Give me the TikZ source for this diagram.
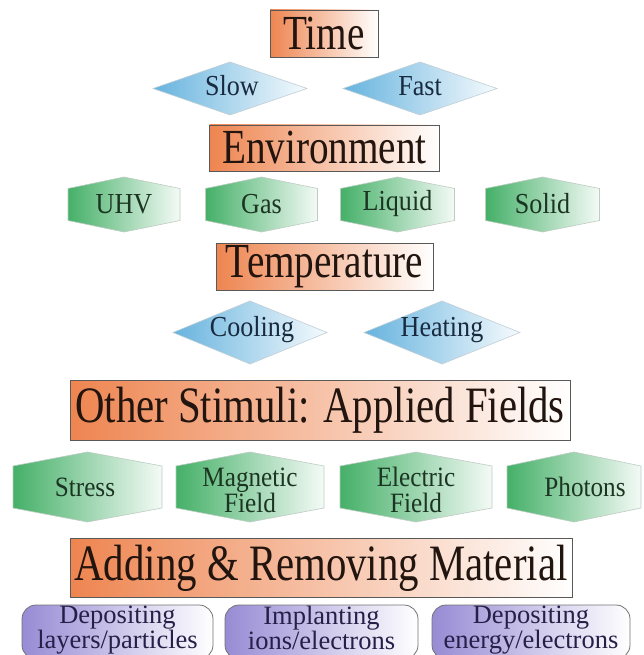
\documentclass[tikz,border=0pt]{standalone}
\usepackage{fontspec}
\setmainfont{Liberation Serif}
\newfontfamily\titlefont{Liberation Serif}[FakeStretch=0.8]
\newfontfamily\labelfont{Liberation Serif}[FakeStretch=0.9]
\definecolor{orangeL}{HTML}{EE8550}
\definecolor{blueL}{HTML}{66B3DE}
\definecolor{greenL}{HTML}{45B068}
\definecolor{purpleL}{HTML}{978BD4}
\definecolor{titletext}{HTML}{22140E}
\definecolor{bluetext}{HTML}{182A40}
\definecolor{greentext}{HTML}{1B3522}
\definecolor{purpletext}{HTML}{262048}
\tikzset{
  titlebox/.style={draw=black!65, line width=0.9pt, left color=orangeL, right color=white,
    inner sep=0pt, text=titletext, font=\titlefont\fontsize{49}{50}\selectfont},
  diam/.style={left color=blueL, right color=blueL!6!white, draw=blueL!35!gray!45, line width=0.6pt},
  hexs/.style={left color=greenL, right color=greenL!6!white, draw=greenL!30!gray!45, line width=0.6pt},
  bluelabel/.style={text=bluetext, font=\labelfont\fontsize{29}{30}\selectfont},
  greenlabel/.style={text=greentext, font=\labelfont\fontsize{29}{30}\selectfont},
  greenlabelb/.style={text=greentext, align=center, font=\labelfont\fontsize{28}{26}\selectfont},
  purplebox/.style={draw=black!55, line width=0.8pt, rounded corners=14pt, left color=purpleL,
    right color=white, inner sep=0pt, minimum height=54pt},
  purplelabel/.style={inner sep=0pt, text=purpletext, align=center, font=\fontsize{26.5}{21}\selectfont},
}
\newcommand\dia[4]{\shade[diam] ({#1-#3/2},#2) -- ({#1},{#2-#4/2}) -- ({#1+#3/2},#2) -- ({#1},{#2+#4/2}) -- cycle;}
\newcommand\hexa[5]{\shade[hexs] ({#1},{#2-#4}) -- ({#1+#3},{#2-#5}) -- ({#1+#3},{#2+#5}) -- ({#1},{#2+#4}) -- ({#1-#3},{#2+#5}) -- ({#1-#3},{#2-#5}) -- cycle;}
\begin{document}
\begin{tikzpicture}[x=1pt,y=-1pt]
\useasboundingbox (0,0) rectangle (643,655);
\fill[white] (0,0) rectangle (643,655);

% Time
\node[titlebox, minimum width=108pt, minimum height=47pt] (time) at (324,33.5) {Time};
\dia{230}{88.5}{154}{53}
\dia{420}{88.5}{154}{53}
\node[bluelabel] (slow) at (232,86) {Slow};
\node[bluelabel] (fast) at (420,86) {Fast};

% Environment
\node[titlebox, minimum width=230pt, minimum height=46pt] (env) at (324.5,148) {Environment};
\hexa{124}{204.5}{56}{27.5}{16}
\hexa{261.5}{204.5}{56}{27.5}{16}
\hexa{397.5}{204.5}{57}{27.5}{16}
\hexa{542.5}{204.5}{57}{27.5}{16}
\node[greenlabel] (uhv) at (124,204) {UHV};
\node[greenlabel] (gas) at (261.5,204) {Gas};
\node[greenlabel] (liquid) at (397.5,204) {Liquid};
\node[greenlabel] (solid) at (542.5,204) {Solid};

% Temperature
\node[titlebox, minimum width=217pt, minimum height=47pt] (temp) at (324.5,266.5) {Temperature};
\dia{250}{332.5}{154}{63}
\dia{442}{332.5}{156}{63}
\node[bluelabel] (cool) at (252,330) {Cooling};
\node[bluelabel] (heat) at (442,330) {Heating};

% Other stimuli
\node[titlebox, minimum width=500pt, minimum height=60pt, font=\titlefont\fontsize{51}{52}\selectfont] (stim) at (320,410) {Other Stimuli: Applied Fields};
\hexa{87.5}{487}{74.5}{35}{21}
\hexa{250}{487}{74}{35}{21}
\hexa{416}{487}{76}{35}{21}
\hexa{574}{487}{67}{35}{21}
\node[greenlabel, font=\labelfont\fontsize{28}{28}\selectfont] (stress) at (85,487) {Stress};
\node[greenlabelb] (mag) at (250,490) {Magnetic\\Field};
\node[greenlabelb] (elec) at (416,490) {Electric\\Field};
\node[greenlabel, font=\labelfont\fontsize{28}{28}\selectfont] (phot) at (585,487) {Photons};

% Adding & removing
\node[titlebox, minimum width=502pt, minimum height=59pt, font=\titlefont\fontsize{51}{52}\selectfont] (add) at (321,568) {Adding \& Removing Material};
\node[purplebox, minimum width=191pt] (dep1) at (117.5,632) {};
\node[purplebox, minimum width=193pt] (impl) at (321.5,632) {};
\node[purplebox, minimum width=198pt] (dep2) at (531,632) {};
\node[purplelabel] (dep1t) at (117.5,630.5) {Depositing\\layers/particles};
\node[purplelabel] (implt) at (321.5,630.5) {Implanting\\ions/electrons\vphantom{y}};
\node[purplelabel] (dep2t) at (531,630.5) {Depositing\\energy/electrons};
\end{tikzpicture}
\end{document}
